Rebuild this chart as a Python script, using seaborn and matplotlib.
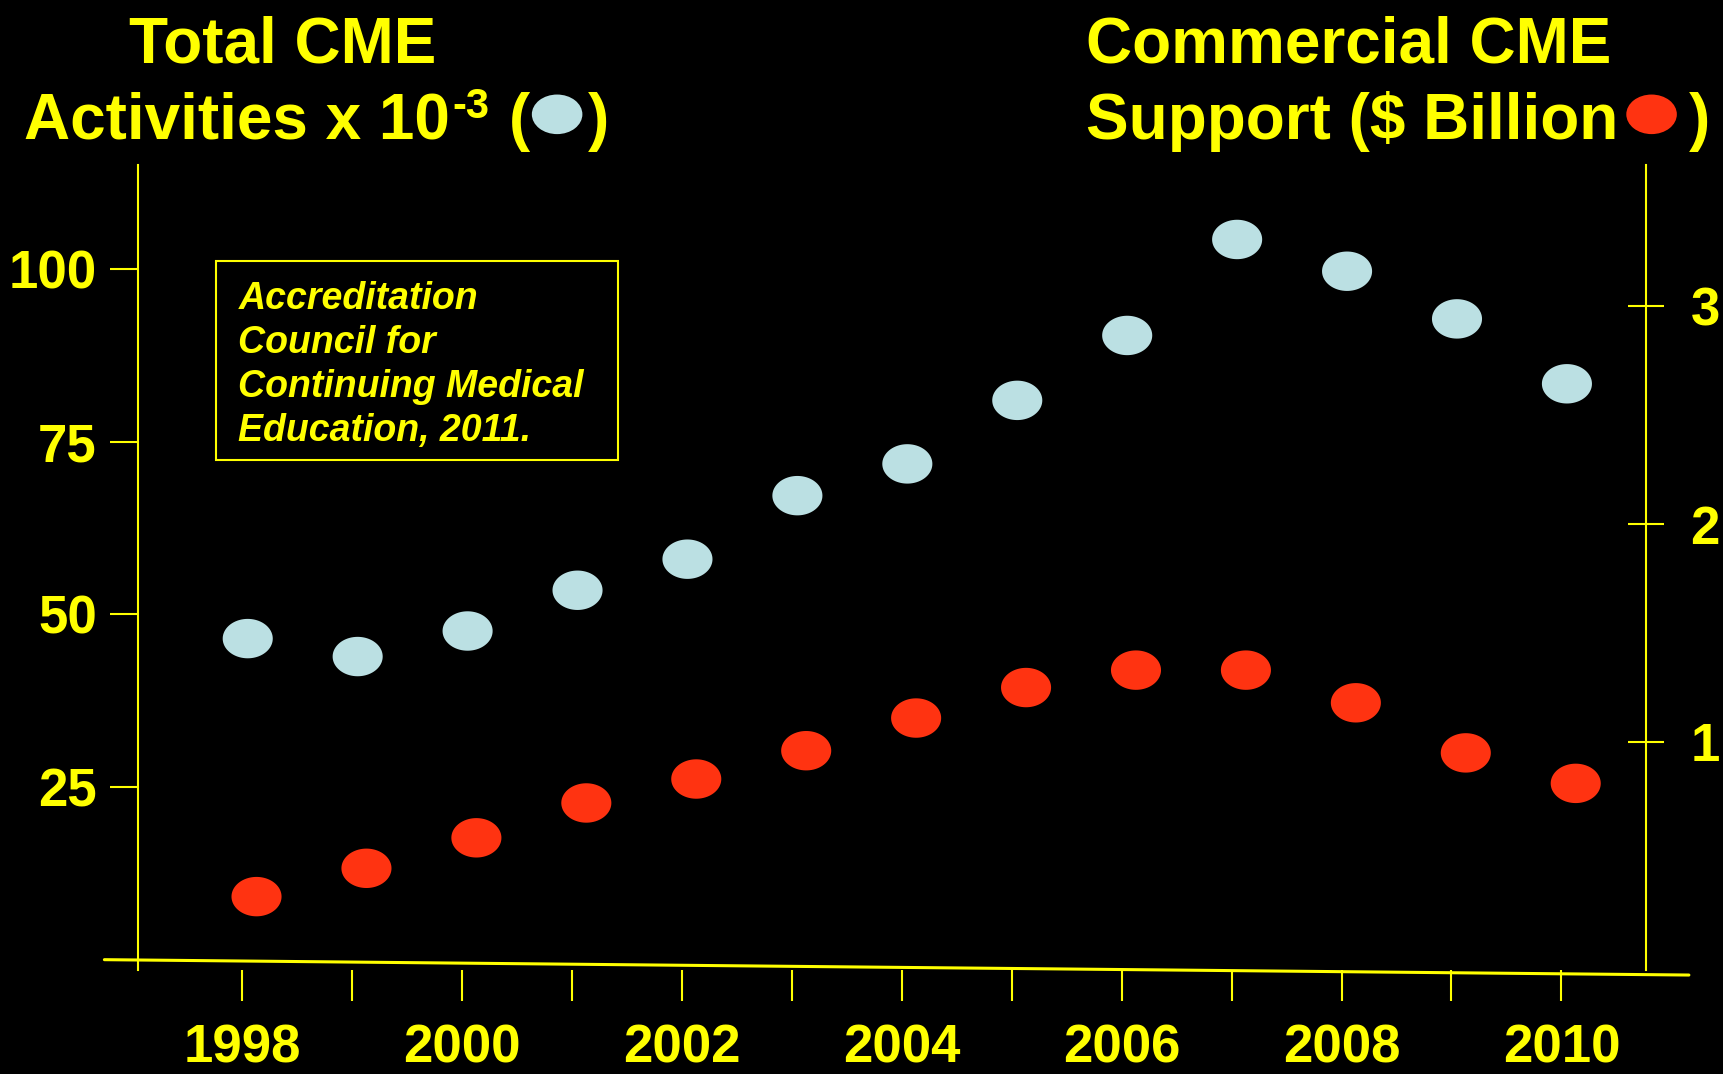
import numpy as np
import matplotlib.pyplot as plt
import seaborn as sns
from matplotlib.path import Path
from matplotlib.patches import Rectangle, Ellipse

# data
years = [1998, 1999, 2000, 2001, 2002, 2003, 2004, 2005, 2006, 2007, 2008, 2009, 2010]
activities = [46.5, 43.9, 47.6, 53.5, 58.0, 67.2, 71.8, 81.0, 90.4, 104.3, 99.7, 92.8, 83.4]  # x 10^3
support = [0.29, 0.42, 0.56, 0.72, 0.83, 0.96, 1.11, 1.25, 1.33, 1.33, 1.18, 0.95, 0.81]  # $ billion
left_ticks = [25, 50, 75, 100]
right_ticks = [1, 2, 3]
year_labels = [str(y) if y % 2 == 0 else "" for y in years]

YELLOW = "#FFFF00"
BLUE = "#BBE0E3"
RED = "#FF3311"

sns.set_theme(style="white")
plt.rcParams["font.family"] = ["Liberation Sans", "DejaVu Sans"]
plt.rcParams["font.weight"] = "bold"

# reference layout measured on a 1568 x 977 view
W, H = 1568, 977
def fx(x):
    return x / W
def fy(y):
    return 1 - y / H

# flat ellipse marker like the slide dots
t = np.linspace(0, 2 * np.pi, 80)
ellipse = Path(np.column_stack([1.27 * np.cos(t), np.sin(t)]), closed=True)

fig = plt.figure(figsize=(17.23, 10.74), dpi=100, facecolor="black")
ax = fig.add_axes([fx(126), fy(882), fx(1498) - fx(126), fy(150) - fy(882)])
ax.set_facecolor("black")
ax2 = ax.twinx()

sns.scatterplot(x=np.array(years) + 0.05, y=activities, ax=ax, marker=ellipse, s=1300,
                color=BLUE, edgecolor="none", zorder=3)
sns.scatterplot(x=np.array(years) + 0.13, y=support, ax=ax2, marker=ellipse, s=1300,
                color=RED, edgecolor="none", zorder=3)

ax.set_xlim(1997.056, 2010.77)
ax.set_ylim(-1.43, 115.1)
ax2.set_ylim(-0.045, 3.65)

for a in (ax, ax2):
    for s in a.spines.values():
        s.set_visible(False)
        s.set_color(YELLOW)
        s.set_linewidth(1.5)
    a.set_xlabel("")
    a.set_ylabel("")
ax.spines["left"].set_visible(True)
ax2.spines["right"].set_visible(True)

ax.set_yticks(left_ticks)
ax.set_yticklabels([str(v) for v in left_ticks])
ax.set_xticks(years)
ax.set_xticklabels(year_labels)
ax2.set_yticks(right_ticks)
ax2.set_yticklabels([str(v) for v in right_ticks])

ax.tick_params(axis="y", left=True, direction="out", length=20, width=1.5, color=YELLOW,
               pad=10, labelsize=38, labelcolor=YELLOW)
ax.tick_params(axis="x", bottom=True, direction="out", length=22, width=1.5, color=YELLOW,
               pad=17, labelsize=38, labelcolor=YELLOW)
ax2.tick_params(axis="y", right=True, direction="inout", length=26, width=1.5, color=YELLOW,
                pad=19, labelsize=38, labelcolor=YELLOW)

# slightly sloping baseline, as on the slide
ax.plot([-0.0226, 1.0284], [0.0123, -0.0068], transform=ax.transAxes, color=YELLOW,
        lw=2.2, clip_on=False, zorder=2)

# titles
fig.text(fx(257), fy(57), "Total CME", ha="center", va="baseline", color=YELLOW, fontsize=46)
t1 = fig.text(fx(22), fy(126), "Activities x 10", ha="left", va="baseline",
              color=YELLOW, fontsize=46)
# superscript -3 hung off the end of the title text
ax.annotate("-3", xy=(1, 1), xycoords=t1, xytext=(2, 3), textcoords="offset points",
            ha="left", va="top", color=YELLOW, fontsize=30, annotation_clip=False)
fig.text(fx(463), fy(126), "(", ha="left", va="baseline", color=YELLOW, fontsize=46)
fig.text(fx(554), fy(126), ")", ha="right", va="baseline", color=YELLOW, fontsize=46)
fig.add_artist(Ellipse((fx(507), fy(104)), 46 / W, 36 / H, transform=fig.transFigure,
                       facecolor=BLUE, edgecolor="none"))

fig.text(fx(988), fy(57), "Commercial CME", ha="left", va="baseline", color=YELLOW, fontsize=46)
fig.text(fx(988), fy(126), "Support ($ Billion", ha="left", va="baseline",
         color=YELLOW, fontsize=46)
fig.text(fx(1556), fy(126), ")", ha="right", va="baseline", color=YELLOW, fontsize=46)
fig.add_artist(Ellipse((fx(1503), fy(104)), 46 / W, 36 / H, transform=fig.transFigure,
                       facecolor=RED, edgecolor="none"))

# source box
fig.add_artist(Rectangle((fx(197), fy(418)), fx(562) - fx(197), fy(237) - fy(418),
                         transform=fig.transFigure, facecolor="none", edgecolor=YELLOW, lw=1.5))
source_lines = ["Accreditation", "Council for", "Continuing Medical", "Education, 2011."]
for i, line in enumerate(source_lines):
    fig.text(fx(217), fy(281 + 40 * i), line, ha="left", va="baseline", color=YELLOW,
             fontsize=27, fontstyle="italic", fontweight="bold")

fig.savefig("out.png", dpi=100, facecolor="black")
